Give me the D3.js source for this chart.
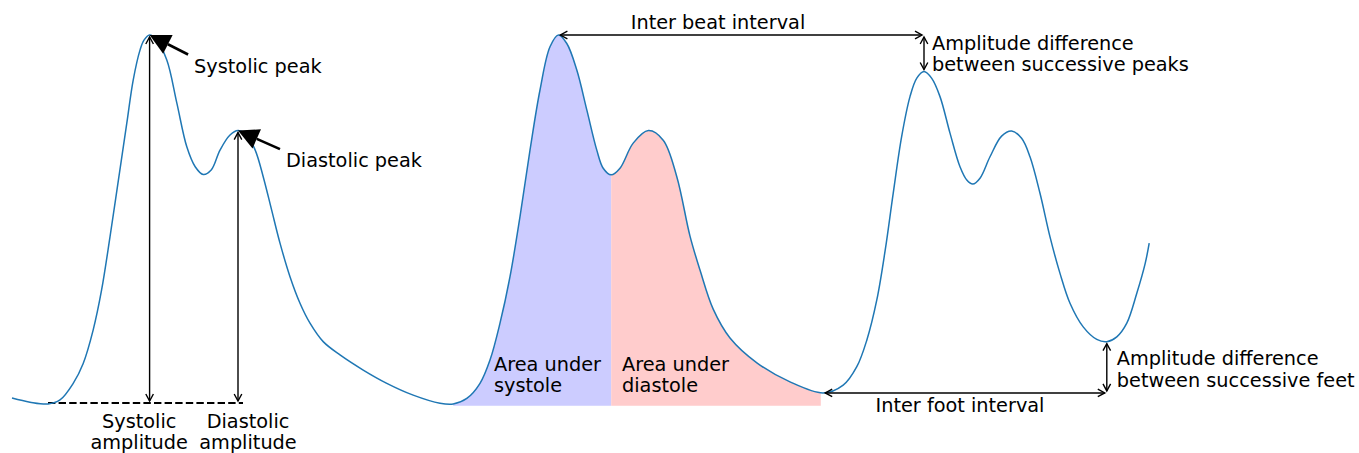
<!DOCTYPE html>
<html>
<head>
<meta charset="utf-8">
<script src="https://cdn.jsdelivr.net/npm/d3@7"></script>
<style>
body { margin: 0; background: #fff; }
text { font-family: "DejaVu Sans", sans-serif; font-size: 19.3px; fill: #000; }
</style>
</head>
<body>
<script>
// PPG signal: time in ms, amplitude in % of the first systolic amplitude
var beat1 = [[0,1.6],[45,0.5],[90,0],[120,1.1],[153,5.6],[178,11.0],[203,20.1],[224,30.9],
    [245,45.3],[266,60.7],[287,76.1],[303,87.8],[320,95.9],[330,98.6],[344,100],[360,98.9],
    [387,93.2],[412,81.6],[437,69.7],[458,64.3],[478,62.2],[498,63.4],[520,68.8],[545,72.9],
    [565,74.1],[585,73.2],[608,68.8],[628,61.6],[649,52.6],[670,43.6],[695,34.5],[720,27.3],
    [745,21.9],[778,16.9],[820,13.3],[878,9.2],[937,5.6],[1003,2.4],[1070,0.2]];
var beat2 = [[1103,0],[1137,1.5],[1170,5.6],[1195,11.9],[1220,21.9],[1245,34.5],[1270,50.8],
    [1295,68.8],[1320,85.1],[1345,96.8],[1366,100],[1387,97.7],[1412,90.5],[1437,79.7],
    [1462,68.8],[1478,63.9],[1498,62.1],[1520,63.9],[1553,70.7],[1591,74.1],[1628,71.5],
    [1662,61.6],[1695,45.5],[1720,36.3],[1753,25.7],[1795,17.9],[1863,11.1],[1945,6.0]];
var beat3 = [[2028,3.0],[2078,5.1],[2112,10.1],[2137,17.3],[2162,28.2],[2183,41.7],[2203,57.1],
    [2224,72.4],[2245,83.3],[2262,88.3],[2280,90.1],[2299,88.3],[2320,83.3],[2345,73.4],
    [2370,64.3],[2387,60.7],[2402,59.6],[2420,61.2],[2445,67.0],[2474,72.6],[2499,74.0],
    [2524,72.0],[2545,67.0],[2570,57.1],[2595,45.3],[2620,35.4],[2645,27.3],[2678,20.9],
    [2712,17.5],[2737,16.9],[2762,18.2],[2787,21.9],[2812,30.0],[2833,38.1],[2843,43.6]];

// features of the signal
var firstFoot = [90, 0];
var systolicPeak = [344, 100];
var diastolicPeak = [565, 74.1];
var beatPeaks = [[1366, 100], [2280, 90.1]];
var beatFeet = [[2028, 3.0], [2737, 16.9]];
var systoleRange = [1103, 1498];
var diastoleRange = [1498, 2022];
var areaBase = -0.5;

var signal = beat1.concat(beat2, beat3);

var width = 1359, height = 453;
var svg = d3.select("body").append("svg")
    .attr("width", width)
    .attr("height", height);

var x = d3.scaleLinear().domain([0, 3000]).range([12, 1212]);
var y = d3.scaleLinear().domain([0, 100]).range([404, 35]);

var smooth = d3.curveCatmullRom.alpha(0.5);

// areas under systole / diastole
var defs = svg.append("defs");
defs.append("clipPath").attr("id", "clipSys").append("rect")
    .attr("x", x(systoleRange[0])).attr("y", 0)
    .attr("width", x(systoleRange[1]) - x(systoleRange[0])).attr("height", height);
defs.append("clipPath").attr("id", "clipDia").append("rect")
    .attr("x", x(diastoleRange[0])).attr("y", 0)
    .attr("width", x(diastoleRange[1]) - x(diastoleRange[0])).attr("height", height);

var area = d3.area()
    .x(function (d) { return x(d[0]); })
    .y0(y(areaBase))
    .y1(function (d) { return y(d[1]); })
    .curve(smooth);

var beat2Full = [beat1[beat1.length - 1]].concat(beat2, [beat3[0], beat3[1]]);
svg.append("path").datum(beat2Full).attr("d", area)
    .attr("fill", "#ccccff").attr("clip-path", "url(#clipSys)");
svg.append("path").datum(beat2Full).attr("d", area)
    .attr("fill", "#ffcccc").attr("clip-path", "url(#clipDia)");

// dashed baseline under the amplitudes
svg.append("line")
    .attr("x1", x(firstFoot[0])).attr("x2", x(diastolicPeak[0]) + 5)
    .attr("y1", y(firstFoot[1]) - 1).attr("y2", y(firstFoot[1]) - 1)
    .attr("stroke", "#000").attr("stroke-width", 2)
    .attr("stroke-dasharray", "7.4,3.2");

// the signal
var line = d3.line()
    .x(function (d) { return x(d[0]); })
    .y(function (d) { return y(d[1]); })
    .curve(smooth);
svg.append("path").datum(signal).attr("d", line)
    .attr("fill", "none").attr("stroke", "#1f77b4").attr("stroke-width", 1.5);

// <-> arrows
function doubleArrow(x0, y0, x1, y1) {
    var dx = x1 - x0, dy = y1 - y0, len = Math.sqrt(dx * dx + dy * dy);
    var ux = dx / len, uy = dy / len;
    var sx = x0 + ux * 2, sy = y0 + uy * 2, ex = x1 - ux * 2, ey = y1 - uy * 2;
    var hl = 7, hw = 3.8;
    var g = svg.append("g").attr("stroke", "#000").attr("stroke-width", 1.4).attr("fill", "none");
    g.append("line").attr("x1", sx).attr("y1", sy).attr("x2", ex).attr("y2", ey);
    function head(px, py, dirx, diry) {
        var bx = px - dirx * hl, by = py - diry * hl;
        g.append("path").attr("d",
            "M" + (bx - diry * hw) + "," + (by + dirx * hw) +
            "L" + px + "," + py +
            "L" + (bx + diry * hw) + "," + (by - dirx * hw));
    }
    head(ex, ey, ux, uy);
    head(sx, sy, -ux, -uy);
}

// filled pointer arrows
function pointer(tx, ty, ox, oy) {
    var len = Math.sqrt(ox * ox + oy * oy), ux = ox / len, uy = oy / len;
    var hl = 20.5, hw = 10.5;
    var bx = tx + ux * hl, by = ty + uy * hl;
    svg.append("line").attr("x1", bx).attr("y1", by)
        .attr("x2", tx + ox).attr("y2", ty + oy)
        .attr("stroke", "#000").attr("stroke-width", 2.6);
    svg.append("path").attr("d",
        "M" + tx + "," + ty +
        "L" + (bx + uy * hw) + "," + (by - ux * hw) +
        "L" + (bx - uy * hw) + "," + (by + ux * hw) + "Z")
        .attr("fill", "#000");
}

pointer(x(systolicPeak[0]), y(systolicPeak[1]), 38.5, 19.5);
pointer(x(diastolicPeak[0]), y(diastolicPeak[1]), 42, 18.5);

doubleArrow(x(systolicPeak[0]), y(systolicPeak[1]), x(systolicPeak[0]), y(firstFoot[1]) - 1);
doubleArrow(x(diastolicPeak[0]), y(diastolicPeak[1]), x(diastolicPeak[0]), y(firstFoot[1]) - 1);
doubleArrow(x(beatPeaks[0][0]), y(beatPeaks[0][1]), x(beatPeaks[1][0]), y(beatPeaks[0][1]));
doubleArrow(x(beatPeaks[1][0]), y(beatPeaks[0][1]), x(beatPeaks[1][0]), y(beatPeaks[1][1]));
doubleArrow(x(beatFeet[0][0]), y(beatFeet[0][1]), x(beatFeet[1][0]), y(beatFeet[0][1]));
doubleArrow(x(beatFeet[1][0]), y(beatFeet[1][1]), x(beatFeet[1][0]), y(beatFeet[0][1]));

// labels
function label(lines, px, py, anchor, lh) {
    var t = svg.append("text").attr("text-anchor", anchor || "start");
    lines.forEach(function (s, i) {
        t.append("tspan").attr("x", px).attr("y", py + i * (lh || 21.5)).text(s);
    });
}

label(["Systolic peak"], x(systolicPeak[0]) + 44.5, y(systolicPeak[1]) + 38);
label(["Diastolic peak"], x(diastolicPeak[0]) + 48, y(diastolicPeak[1]) + 36.5);
label(["Systolic", "amplitude"], x(318), y(0) + 23.5, "middle", 21);
label(["Diastolic", "amplitude"], x(590), y(0) + 23.5, "middle", 21);
label(["Area under", "systole"], x(1205), y(9));
label(["Area under", "diastole"], x(1525), y(9));
label(["Inter beat interval"], x(1765), y(100) - 6, "middle");
label(["Amplitude difference", "between successive peaks"], x(beatPeaks[1][0]) + 8, y(96));
label(["Inter foot interval"], x(2370), y(beatFeet[0][1]) + 19, "middle");
label(["Amplitude difference", "between successive feet"], x(beatFeet[1][0]) + 10, y(10.5));
</script>
</body>
</html>
